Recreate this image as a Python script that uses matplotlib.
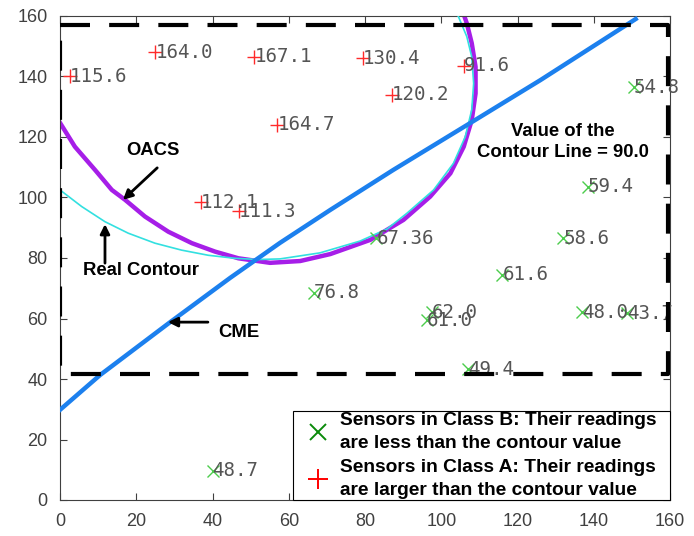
"""Contour line estimate from sensor readings: OACS vs CME vs real contour."""
import matplotlib
matplotlib.use("Agg")
import matplotlib.pyplot as plt
from matplotlib.lines import Line2D

plt.rcParams["font.family"] = ["Liberation Sans", "DejaVu Sans"]

# sensors with readings above the contour value (class A)
A_X = [2.5, 25, 51, 57, 37, 47, 79.5, 87, 106]
A_Y = [140, 148, 146.5, 124, 98.5, 95.5, 146, 134, 143.5]
A_LABELS = ["115.6", "164.0", "167.1", "164.7", "112.1", "111.3", "130.4", "120.2", "91.6"]

# sensors with readings below the contour value (class B)
B_X = [150.5, 138.5, 132, 83, 116, 97.5, 96.3, 137, 148.8, 107, 66.5, 40]
B_Y = [136.5, 103.5, 86.5, 86.5, 74.5, 62.1, 59.5, 62.1, 61.8, 43.3, 68.5, 9.6]
B_LABELS = ["54.8", "59.4", "58.6", "67.36", "61.6", "62.0", "61.0", "48.0", "43.7",
            "49.4", "76.8", "48.7"]

# CME estimate
CME_X = [0, 10.5, 28.9, 44.6, 57.7, 70.9, 87.4, 106.8, 126, 151]
CME_Y = [29.8, 41.3, 58.8, 73.4, 85, 95.9, 109.1, 124, 138.8, 159]

# OACS estimate
OACS_X = [0, 3.9, 9.2, 13.6, 17.1, 22.3, 28.4, 34.6, 40.7, 46.8, 55.1, 63, 70.9, 81.4,
          90.1, 97.1, 102.4, 105.9, 108, 109, 109, 108, 106.7, 105.9]
OACS_Y = [124.7, 116.8, 109.1, 102.5, 99.2, 93.7, 88.7, 84.9, 82.1, 79.9, 78.4, 79,
          81.3, 86, 92.6, 100.3, 108, 116.8, 125.6, 134.4, 143.2, 151, 157.6, 160.5]

# real contour at 90.0
REAL_X = [0, 5.7, 11.8, 17.9, 24.9, 31.9, 38.9, 45.9, 52, 57.7, 68.2, 78.7, 85.8,
          91, 98, 103.2, 106.3, 108, 108.5, 108, 106.7, 104.5, 104]
REAL_Y = [102.5, 97, 92, 88.2, 84.9, 82.6, 80.9, 79.9, 79.5, 79.7, 81.7, 85.6, 89.6,
          94.8, 102.5, 111.3, 120.1, 129, 137.7, 146.5, 153.2, 159.8, 161]

# region of interest
ROI_X = [0, 159.5, 159.5, 0, 0]
ROI_Y = [157, 157, 41.5, 41.5, 157]

TICKS = [0, 20, 40, 60, 80, 100, 120, 140, 160]

fig = plt.figure(figsize=(6.94, 5.36), dpi=100)
ax = fig.add_axes([60 / 694, 36 / 536, 610 / 694, 484 / 536])

ax.plot(REAL_X, REAL_Y, color="#33e0e0", lw=1.2, zorder=3)
ax.plot(OACS_X, OACS_Y, color="#a61ee8", lw=3.2, zorder=2)
ax.plot(CME_X, CME_Y, color="#1c80ee", lw=3.2, zorder=4)

ax.plot(A_X, A_Y, "+", color="#ff2a2a", ms=10, mew=1.0, ls="none", zorder=3)
ax.plot(B_X, B_Y, "x", color="#4ccc4c", ms=9, mew=1.0, ls="none", zorder=3)

for x, y, s in zip(A_X + B_X, A_Y + B_Y, A_LABELS + B_LABELS):
    ax.text(x, y, s, ha="left", va="center", fontsize=13.8, color="#555555",
            family="DejaVu Sans Mono", zorder=3)

ax.plot(ROI_X, ROI_Y, color="black", lw=3.0, ls=(0, (7.2, 4.6)), zorder=5,
        solid_capstyle="butt", dash_capstyle="butt")

arrow = dict(arrowstyle="-|>", color="black", lw=2.0, mutation_scale=14,
             shrinkA=0, shrinkB=0)
bold = dict(fontsize=13.3, fontweight="bold", color="black")

ax.annotate("", xy=(16.5, 99.2), xytext=(25.5, 109.8), arrowprops=arrow, zorder=6)
ax.text(24.4, 115.4, "OACS", ha="center", va="center", **bold)

ax.annotate("", xy=(11.8, 91.2), xytext=(11.8, 78.3), arrowprops=arrow, zorder=6)
ax.text(21.3, 76.0, "Real Contour", ha="center", va="center", **bold)

ax.annotate("", xy=(28.3, 58.8), xytext=(38.8, 58.8), arrowprops=arrow, zorder=6)
ax.text(47.0, 55.5, "CME", ha="center", va="center", **bold)

ax.text(131.8, 118.3, "Value of the\nContour Line = 90.0", ha="center", va="center",
        linespacing=1.35, **bold)

handles = [
    Line2D([], [], marker="x", color="#0a8a0a", ms=11, mew=1.4, ls="none"),
    Line2D([], [], marker="+", color="#ff0000", ms=14, mew=1.4, ls="none"),
]
labels = [
    "Sensors in Class B: Their readings\nare less than the contour value",
    "Sensors in Class A: Their readings\nare larger than the contour value",
]
leg = ax.legend(handles, labels, loc="lower left", mode="expand",
                bbox_to_anchor=(0.382, 0, 0.618, 0.2),
                borderaxespad=0, fancybox=False, edgecolor="black",
                prop=dict(family="Liberation Sans", weight="bold", size=13.8),
                handlelength=2.5, handletextpad=-0.1, borderpad=0.05,
                labelspacing=0.35, framealpha=1)
leg.get_frame().set_linewidth(0.8)
for t in leg.get_texts():
    t.set_linespacing(1.48)

ax.set_xlim(0, 160)
ax.set_ylim(0, 160)
ax.set_xticks(TICKS)
ax.set_yticks(TICKS)
ax.tick_params(direction="in", length=5, width=0.8, top=True, right=True,
               labelsize=13, labelcolor="#404040", color="#404040", pad=9)
for sp in ax.spines.values():
    sp.set_color("#404040")
    sp.set_linewidth(0.8)

fig.savefig("out.png", dpi=100)
